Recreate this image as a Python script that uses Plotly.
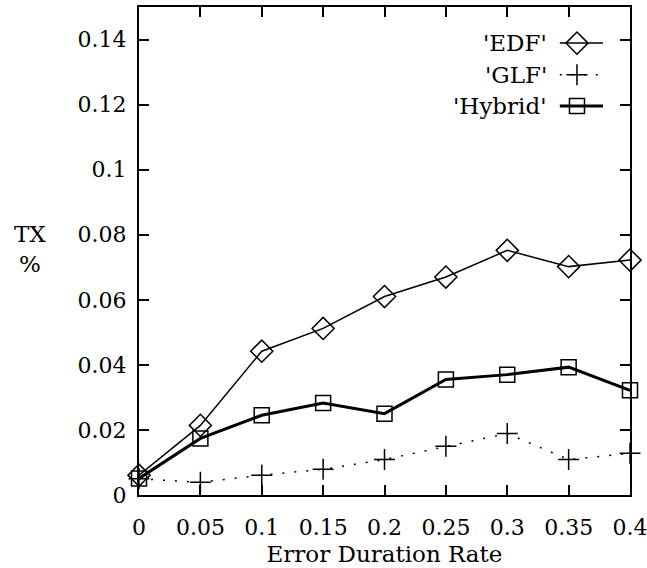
import plotly.graph_objects as go

x_vals = [0, 0.05, 0.1, 0.15, 0.2, 0.25, 0.3, 0.35, 0.4]
edf = [0.0061, 0.0214, 0.0442, 0.0512, 0.0610, 0.0670, 0.0752, 0.0702, 0.0722]
glf = [0.0050, 0.0039, 0.0061, 0.0079, 0.0109, 0.0150, 0.0189, 0.0109, 0.0128]
hybrid = [0.0051, 0.0174, 0.0245, 0.0283, 0.0250, 0.0355, 0.0370, 0.0393, 0.0322]
series_names = ["'EDF'", "'GLF'", "'Hybrid'"]
x_ticks = [0, 0.05, 0.1, 0.15, 0.2, 0.25, 0.3, 0.35, 0.4]
x_tick_text = ["0", "0.05", "0.1", "0.15", "0.2", "0.25", "0.3", "0.35", "0.4"]
y_ticks = [0, 0.02, 0.04, 0.06, 0.08, 0.1, 0.12, 0.14]
y_tick_text = ["0", "0.02", "0.04", "0.06", "0.08", "0.1", "0.12", "0.14"]

FONT = "DejaVu Serif"
styles = [
    dict(line=dict(color="black", width=1.5), marker=dict(symbol="diamond-open", size=17, color="black", line=dict(width=1.5))),
    dict(line=dict(color="black", width=1.5, dash="2px,10px"), marker=dict(symbol="cross-thin-open", size=15, color="black", line=dict(width=1.5, color="black"))),
    dict(line=dict(color="black", width=3), marker=dict(symbol="square-open", size=15, color="black", line=dict(width=1.5))),
]

fig = go.Figure()
for name, ys, st in zip(series_names, [edf, glf, hybrid], styles):
    fig.add_trace(go.Scatter(x=x_vals, y=ys, mode="lines+markers", name=name,
                             line=st["line"], marker=st["marker"], showlegend=False,
                             cliponaxis=False))

# custom legend (text left of sample, gnuplot style)
leg_y = [0.926, 0.861, 0.797]
for name, ly, st in zip(series_names, leg_y, styles):
    fig.add_trace(go.Scatter(x=[0.857, 0.945], y=[ly, ly], mode="lines", line=st["line"],
                             xaxis="x2", yaxis="y2", showlegend=False, hoverinfo="skip"))
    fig.add_trace(go.Scatter(x=[0.892], y=[ly], mode="markers", marker=st["marker"],
                             xaxis="x2", yaxis="y2", showlegend=False, hoverinfo="skip"))
    fig.add_annotation(x=0.835, y=ly, xref="x2", yref="y2", text=name, showarrow=False,
                       xanchor="right", yanchor="middle", font=dict(family=FONT, size=23, color="black"))

fig.add_annotation(x=-0.222, y=0.505, xref="paper", yref="paper", text="TX<br>%", showarrow=False,
                   xanchor="center", yanchor="middle", font=dict(family=FONT, size=23, color="black"))

axis_common = dict(showline=True, linecolor="black", linewidth=2, mirror="ticks", ticks="inside",
                   ticklen=10, tickwidth=2, tickcolor="black", showgrid=False, zeroline=False,
                   ticklabeloverflow="allow",
                   tickfont=dict(family=FONT, size=22, color="black"))

fig.update_layout(
    width=647, height=568,
    margin=dict(l=139, r=17, t=7, b=73),
    paper_bgcolor="white", plot_bgcolor="white",
    font=dict(family=FONT, color="black"),
    xaxis=dict(range=[0, 0.4], tickvals=x_ticks, ticktext=x_tick_text, automargin=False,
               ticklabelstandoff=12,
               title=dict(text="Error Duration Rate", font=dict(family=FONT, size=23, color="black"), standoff=6),
               **axis_common),
    yaxis=dict(range=[0, 0.15], tickvals=y_ticks, ticktext=y_tick_text, automargin=False,
               ticklabelstandoff=6, **axis_common),
    xaxis2=dict(range=[0, 1], overlaying="x", visible=False, fixedrange=True),
    yaxis2=dict(range=[0, 1], overlaying="y", visible=False, fixedrange=True),
)

fig.write_html("out.html", config={"displayModeBar": False},
               post_script="document.body.style.margin='0';document.body.style.overflow='hidden';")
